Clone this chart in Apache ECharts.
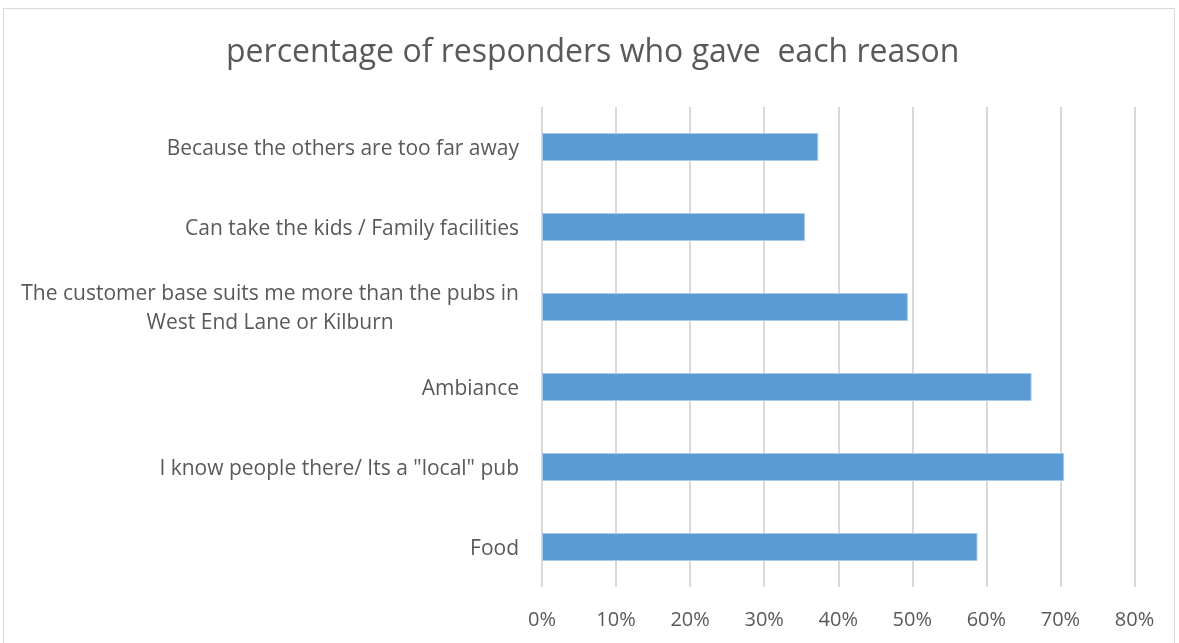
<!DOCTYPE html>
<html>
<head>
<meta charset="utf-8">
<script src="https://cdn.jsdelivr.net/npm/echarts@6/dist/echarts.min.js"></script>
<style>
html,body{margin:0;padding:0;background:#fff;}
#frame{position:absolute;left:3px;top:8px;width:1172px;height:640px;border:1px solid #d9d9d9;box-sizing:border-box;}
#chart{position:absolute;left:0;top:0;width:1179px;height:643px;}
</style>
</head>
<body>
<div id="frame"></div>
<div id="chart"></div>
<script>
const titleText = 'percentage of responders who gave  each reason';
const categories = [
  'Food',
  'I know people there/ Its a "local" pub',
  'Ambiance',
  'The customer base suits me more than the pubs in\nWest End Lane or Kilburn',
  'Can take the kids / Family facilities',
  'Because the others are too far away'
];
const values = [0.588, 0.705, 0.661, 0.494, 0.355, 0.373];
const xTicks = [0, 0.1, 0.2, 0.3, 0.4, 0.5, 0.6, 0.7, 0.8];

const chart = echarts.init(document.getElementById('chart'), null, {renderer:'canvas'});
const FONT = 'Open Sans';
chart.setOption({
  animation: false,
  backgroundColor: 'transparent',
  title: {
    text: titleText,
    left: 226,
    top: 37,
    padding: 0,
    textStyle: {fontFamily: FONT, fontSize: 32, fontWeight: 'normal', color: '#595959'}
  },
  grid: {left: 542, right: 44.5, top: 107, bottom: 56, containLabel: false},
  xAxis: {
    type: 'value',
    min: xTicks[0],
    max: xTicks[xTicks.length - 1],
    interval: 0.1,
    axisLine: {show: false},
    axisTick: {show: false},
    splitLine: {show: true, lineStyle: {color: '#d9d9d9', width: 2}},
    axisLabel: {
      margin: 23,
      fontFamily: FONT, fontSize: 20, color: '#595959',
      formatter: v => Math.round(v * 100) + '%'
    }
  },
  yAxis: {
    type: 'category',
    data: categories,
    axisLine: {show: false},
    axisTick: {show: false},
    splitLine: {show: false},
    axisLabel: {
      margin: 23,
      color: '#595959',
      padding: [4, 0, 0, 0],
      fontFamily: FONT, fontSize: 21, lineHeight: 29,
      formatter: v => '{a|' + v.split('\n').join('}\n{a|') + '}',
      rich: {a: {fontFamily: FONT, fontSize: 21, color: '#595959', lineHeight: 29, align: 'center'}}
    }
  },
  series: [{
    type: 'bar',
    data: values,
    barWidth: 28,
    itemStyle: {color: '#5B9BD5', borderColor: '#a9c9ea', borderWidth: 1}
  }]
});
</script>
</body>
</html>
